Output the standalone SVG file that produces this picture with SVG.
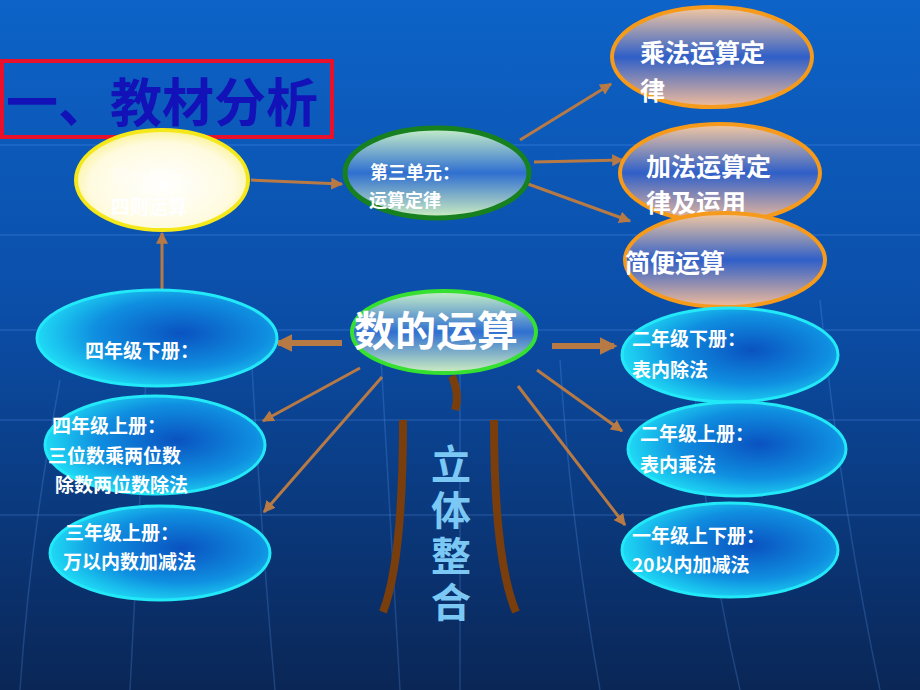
<svg xmlns="http://www.w3.org/2000/svg" width="920" height="690" viewBox="0 0 920 690">
<defs>
<linearGradient id="bg" x1="0" y1="0" x2="0" y2="1">
<stop offset="0" stop-color="#0d63c8"/>
<stop offset="0.45" stop-color="#0b4ea8"/>
<stop offset="1" stop-color="#0a2656"/>
</linearGradient>
<radialGradient id="gYellow" cx="0.5" cy="0.55" r="0.6">
<stop offset="0" stop-color="#ffffff"/>
<stop offset="0.7" stop-color="#fffbe0"/>
<stop offset="1" stop-color="#f8f080"/>
</radialGradient>
<linearGradient id="gGreen" x1="0" y1="0" x2="0" y2="1">
<stop offset="0" stop-color="#c8f0c8"/>
<stop offset="0.5" stop-color="#2f6fd0"/>
<stop offset="1" stop-color="#d0f0c0"/>
</linearGradient>
<linearGradient id="gOrange" x1="0" y1="0" x2="0" y2="1">
<stop offset="0" stop-color="#f6c9a0"/>
<stop offset="0.5" stop-color="#2f5fc8"/>
<stop offset="1" stop-color="#f2bc9a"/>
</linearGradient>
<radialGradient id="gCyan" cx="0.6" cy="0.45" r="0.65">
<stop offset="0" stop-color="#0a52c0"/>
<stop offset="0.55" stop-color="#0f8ee0"/>
<stop offset="1" stop-color="#22e8f8"/>
</radialGradient>
<marker id="ah" viewBox="0 0 10 10" refX="9" refY="5" markerWidth="4" markerHeight="4" orient="auto-start-reverse" markerUnits="strokeWidth">
<path d="M0,0 L10,5 L0,10 z" fill="#b87a45"/>
</marker>
<marker id="ahT" viewBox="0 0 10 10" refX="8" refY="5" markerWidth="3" markerHeight="3" orient="auto" markerUnits="strokeWidth">
<path d="M0,0 L10,5 L0,10 z" fill="#b87a45"/>
</marker>
</defs>
<style>
.t{font-family:"Noto Sans CJK SC","Liberation Sans",sans-serif;font-weight:700;fill:#ffffff}
.s{font-size:19px}
.m{font-size:25px}
.ar{stroke:#b87a45;stroke-width:3;fill:none;marker-end:url(#ah)}
.ak{stroke:#b87a45;stroke-width:6;fill:none;marker-end:url(#ahT)}
.br{stroke:#7a3d0c;stroke-width:8;fill:none;stroke-linecap:butt}
.grid{stroke:#6aa8ff;stroke-opacity:0.22;stroke-width:1.5;fill:none}
.cy{fill:url(#gCyan);stroke:#22e8f8;stroke-width:3}
.or{fill:url(#gOrange);stroke:#f59a1a;stroke-width:4}
</style>
<rect width="920" height="690" fill="url(#bg)"/>
<g id="grid">
<path class="grid" d="M0,145 H920 M0,235 H920 M0,330 H920 M0,420 H920 M0,515 H920"/>
<path class="grid" d="M60,380 Q30,540 20,690 M150,300 Q140,500 130,690 M250,330 Q260,520 275,690 M380,340 Q390,520 400,690 M460,360 Q460,520 460,690 M560,360 Q570,520 600,690 M690,320 Q700,520 740,690 M820,300 Q840,500 880,690"/>
</g>
<g id="title">
<rect x="2" y="61" width="330" height="76" fill="none" stroke="#e8102a" stroke-width="4"/>
<text x="6" y="122" font-family="Noto Sans CJK SC, sans-serif" font-weight="700" font-size="52" fill="#1212b8">一、教材分析</text>
</g>
<g id="connectors">
<line class="ar" x1="251" y1="180" x2="342" y2="184"/>
<line class="ar" x1="520" y1="140" x2="611" y2="84"/>
<line class="ar" x1="534" y1="162" x2="623" y2="160"/>
<line class="ar" x1="528" y1="184" x2="630" y2="221"/>
<line class="ar" x1="162" y1="290" x2="162" y2="233"/>
<line class="ak" x1="342" y1="343" x2="278" y2="343"/>
<line class="ak" x1="552" y1="346" x2="614" y2="346"/>
<line class="ar" x1="360" y1="368" x2="263" y2="421"/>
<line class="ar" x1="382" y1="377" x2="264" y2="512"/>
<line class="ar" x1="537" y1="370" x2="622" y2="431"/>
<line class="ar" x1="518" y1="386" x2="625" y2="525"/>
<path class="br" d="M452,376 Q460,395 455,410"/>
<path class="br" d="M403,420 Q403,560 383,612"/>
<path class="br" d="M494,420 Q494,560 516,612"/>
</g>
<g id="n-sizhe">
<ellipse cx="162" cy="180" rx="86" ry="50" fill="url(#gYellow)" stroke="#f5e81a" stroke-width="4"/>
<text class="t s" x="110" y="183" fill-opacity="0.35" style="fill:#ffffff">第一单元：</text>
<text class="t s" x="111" y="214">四则运算</text>
</g>
<g id="n-unit3">
<ellipse cx="437" cy="173" rx="92" ry="45" fill="url(#gGreen)" stroke="#17801f" stroke-width="5"/>
<text class="t" x="370" y="179" font-size="18">第三单元：</text>
<text class="t" x="369" y="207" font-size="18">运算定律</text>
</g>
<g id="n-cheng">
<ellipse cx="712" cy="57" rx="100" ry="50" class="or"/>
<text class="t m" x="640" y="62">乘法运算定</text>
<text class="t m" x="640" y="100">律</text>
</g>
<g id="n-jia">
<ellipse cx="720" cy="173" rx="100" ry="49" class="or"/>
<text class="t m" x="646" y="176">加法运算定</text>
<text class="t m" x="646" y="212">律及运用</text>
</g>
<g id="n-jianbian">
<ellipse cx="725" cy="260" rx="100" ry="47" class="or"/>
<text class="t m" x="625" y="272">简便运算</text>
</g>
<g id="n-center">
<ellipse cx="444" cy="332" rx="92" ry="41" fill="url(#gGreen)" stroke="#36e030" stroke-width="4"/>
<text class="t" x="354" y="346" font-size="41" font-weight="400">数的运算</text>
</g>
<g id="n-4x">
<ellipse cx="157" cy="338" rx="120" ry="48" class="cy"/>
<text class="t s" x="85" y="358">四年级下册：</text>
</g>
<g id="n-4s">
<ellipse cx="155" cy="445" rx="110" ry="49" class="cy"/>
<text class="t s" x="52" y="433">四年级上册：</text>
<text class="t s" x="48" y="463">三位数乘两位数</text>
<text class="t s" x="55" y="492">除数两位数除法</text>
</g>
<g id="n-3s">
<ellipse cx="160" cy="553" rx="110" ry="47" class="cy"/>
<text class="t s" x="65" y="540">三年级上册：</text>
<text class="t s" x="63" y="569">万以内数加减法</text>
</g>
<g id="n-2x">
<ellipse cx="730" cy="355" rx="108" ry="47" class="cy"/>
<text class="t s" x="632" y="346">二年级下册：</text>
<text class="t s" x="632" y="377">表内除法</text>
</g>
<g id="n-2s">
<ellipse cx="737" cy="449" rx="109" ry="47" class="cy"/>
<text class="t s" x="640" y="441">二年级上册：</text>
<text class="t s" x="640" y="472">表内乘法</text>
</g>
<g id="n-1">
<ellipse cx="730" cy="550" rx="108" ry="47" class="cy"/>
<text class="t s" x="632" y="543">一年级上下册：</text>
<text class="t s" x="632" y="572">20以内加减法</text>
</g>
<g id="n-liti">
<text x="451" y="444" style="writing-mode:tb" letter-spacing="6" font-family="Noto Sans CJK SC, sans-serif" font-weight="700" font-size="40" fill="#7cc8f4">立体整合</text>
</g>
</svg>
